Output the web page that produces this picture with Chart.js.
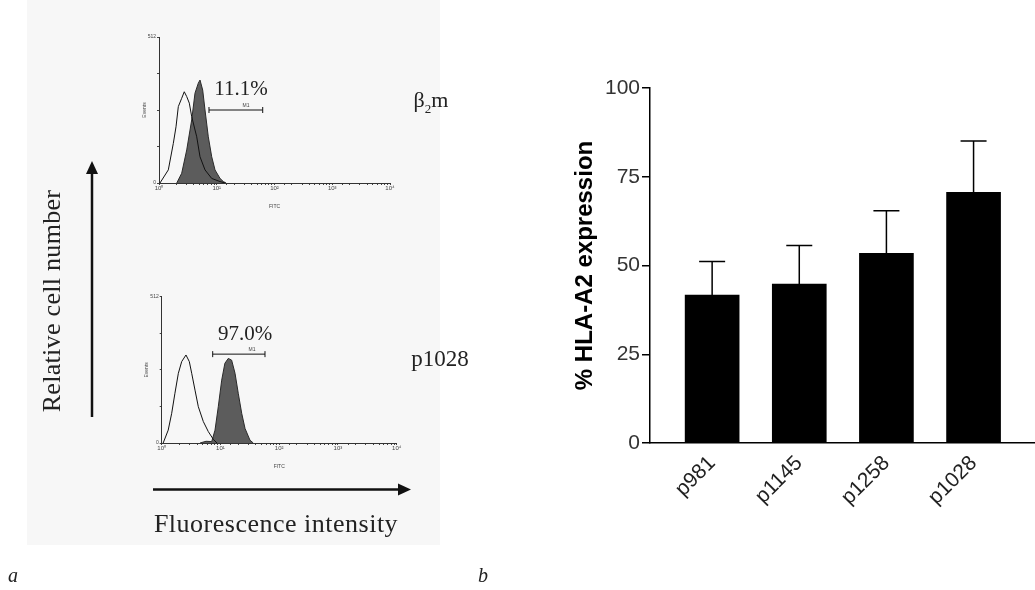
<!DOCTYPE html>
<html lang="en">
<head>
<meta charset="UTF-8">
<title>HLA-A2 expression</title>
<script src="https://cdn.jsdelivr.net/npm/chart.js"></script>
<style>
    body { margin: 0; width: 1035px; height: 590px; background: #fff; position: relative; overflow: hidden; }
    .panel-a { position: absolute; left: 27px; top: 0; width: 413px; height: 545px; background: #f7f7f7; }
    canvas { position: absolute; }
    .lbl { position: absolute; font-family: "Liberation Serif", serif; color: #222; white-space: nowrap; line-height: 1; transform: translate(-50%, -50%); }
    .tiny { position: absolute; font-family: "Liberation Sans", sans-serif; font-size: 5px; color: #444; line-height: 1; transform: translate(-50%, -50%); }
    svg { position: absolute; left: 0; top: 0; }
</style>
</head>
<body>
<div class="panel-a"></div>

<canvas id="histTop" width="300" height="190" style="left:110px;top:20px"></canvas>
<canvas id="histBottom" width="305" height="190" style="left:112px;top:280px"></canvas>
<canvas id="bars" width="495" height="500" style="left:540px;top:50px"></canvas>

<svg width="1035" height="590">
    <line x1="92" y1="417" x2="92" y2="172" stroke="#111" stroke-width="2.5"/>
    <polygon points="92,161 86,174 98,174" fill="#111"/>
    <line x1="153" y1="489.5" x2="400" y2="489.5" stroke="#111" stroke-width="2.5"/>
    <polygon points="411,489.5 398,483.5 398,495.5" fill="#111"/>
</svg>

<div class="lbl" style="left:241px;top:88px;font-size:21px">11.1%</div>
<div class="tiny" style="left:246px;top:105px">M1</div>
<div class="lbl" style="left:431px;top:102px;font-size:22px">β<sub style="font-size:13px">2</sub>m</div>

<div class="lbl" style="left:245px;top:333px;font-size:21px">97.0%</div>
<div class="tiny" style="left:252px;top:349px">M1</div>
<div class="lbl" style="left:440px;top:358px;font-size:23px">p1028</div>

<div class="lbl" style="left:52px;top:301px;font-size:26px;letter-spacing:0.3px;transform:translate(-50%,-50%) rotate(-90deg)">Relative cell number</div>
<div class="lbl" style="left:276px;top:524px;font-size:26px;letter-spacing:0.5px">Fluorescence intensity</div>

<div class="lbl" style="left:13px;top:575px;font-size:20px;font-style:italic">a</div>
<div class="lbl" style="left:483px;top:575px;font-size:20px;font-style:italic">b</div>

<script>
    // panel a: flow cytometry histograms (fluorescence, events)
    const topControlX = [1.04, 1.45, 1.77, 1.97, 2.16, 2.47, 2.74, 3.02, 3.35, 3.68, 4.50, 5.13, 6.26, 8.18, 11.4, 14.0];
    const topControlY = [0, 46, 139, 197, 268, 297, 320, 303, 280, 233, 162, 92, 46, 16, 5, 0];
    const topStainX = [2.03, 2.47, 3.02, 3.68, 4.20, 4.79, 5.13, 5.71, 6.26, 7.14, 8.18, 9.33, 11.4, 13.0, 14.5];
    const topStainY = [0, 34, 116, 221, 315, 350, 361, 326, 256, 162, 92, 46, 16, 5, 0];
    const topGateX = [7.34, 62.5];
    const topGateY = 256;

    const bottomControlX = [1.06, 1.29, 1.48, 1.68, 1.92, 2.19, 2.59, 2.95, 3.24, 3.69, 4.20, 5.11, 6.21, 7.55, 8.73];
    const bottomControlY = [0, 45, 104, 174, 244, 285, 308, 285, 244, 185, 127, 75, 40, 13, 0];
    const bottomStainX = [4.49, 5.68, 7.10, 8.08, 9.19, 10.5, 11.9, 13.6, 15.5, 17.7, 20.1, 23.0, 26.2, 31.8, 36.2];
    const bottomStainY = [0, 6, 5, 45, 127, 220, 279, 296, 290, 244, 174, 104, 51, 10, 0];
    const bottomGateX = [7.38, 57.3];
    const bottomGateY = 311;

    // panel b: bar chart
    const peptides = ['p981', 'p1145', 'p1258', 'p1028'];
    const barPos = [1, 2, 3, 4];
    const expression = [41.7, 44.8, 53.4, 70.6];
    const sem = [9.4, 10.8, 12.0, 14.5];
    const yTicks = [0, 25, 50, 75, 100];

    const sup = ['\u2070', '\u00b9', '\u00b2', '\u00b3', '\u2074'];
    const pts = (xs, ys) => xs.map((x, i) => ({x: x, y: Array.isArray(ys) ? ys[i] : ys}));

    function histChart(id, area, w, h, ctrlX, ctrlY, stX, stY, gateX, gateY) {
        new Chart(document.getElementById(id), {
            type: 'line',
            data: {
                datasets: [{
                    data: pts(ctrlX, ctrlY),
                    borderColor: '#111',
                    borderWidth: 1,
                    pointRadius: 0,
                    fill: false,
                    order: 0
                }, {
                    data: pts(gateX, gateY),
                    borderColor: '#111',
                    borderWidth: 1,
                    pointStyle: 'line',
                    rotation: 90,
                    pointRadius: 3,
                    pointBorderWidth: 1,
                    fill: false,
                    order: 0
                }, {
                    data: pts(stX, stY),
                    borderColor: '#2a2a2a',
                    backgroundColor: '#5c5c5c',
                    borderWidth: 1,
                    pointRadius: 0,
                    fill: 'origin',
                    order: 1
                }]
            },
            options: {
                responsive: false,
                animation: false,
                layout: {padding: {top: area.top, right: w - area.right, left: 0, bottom: 0}},
                plugins: {legend: {display: false}, tooltip: {enabled: false}},
                scales: {
                    x: {
                        type: 'logarithmic',
                        min: 1,
                        max: 10000,
                        grid: {drawOnChartArea: false, tickLength: 2, color: '#444'},
                        border: {color: '#333', width: 1},
                        ticks: {
                            autoSkip: false, maxRotation: 0, minRotation: 0, padding: 0,
                            color: '#444', font: {size: 6},
                            callback: v => {
                                const e = Math.round(Math.log10(v));
                                return Math.abs(Math.log10(v) - e) < 1e-6 ? '10' + sup[e] : '';
                            }
                        },
                        title: {display: true, text: 'FITC', color: '#444', font: {size: 5}, padding: 0},
                        afterFit: s => { s.height = h - area.bottom; }
                    },
                    y: {
                        min: 0,
                        max: 512,
                        grid: {drawOnChartArea: false, tickLength: 2, color: '#444'},
                        border: {color: '#333', width: 1},
                        ticks: {
                            stepSize: 128, padding: 1, color: '#444', font: {size: 5},
                            callback: v => (v === 0 || v === 512) ? v : ''
                        },
                        title: {display: true, text: 'Events', color: '#444', font: {size: 5}, padding: {top: 32}},
                        afterFit: s => { s.width = area.left; }
                    }
                }
            }
        });
    }

    histChart('histTop', {left: 49, top: 17, right: 280, bottom: 163}, 300, 190,
        topControlX, topControlY, topStainX, topStainY, topGateX, topGateY);
    histChart('histBottom', {left: 49.7, top: 16.7, right: 284.7, bottom: 163}, 305, 190,
        bottomControlX, bottomControlY, bottomStainX, bottomStainY, bottomGateX, bottomGateY);

    const errorBars = {
        id: 'errorBars',
        afterDatasetsDraw(chart) {
            const meta = chart.getDatasetMeta(0);
            const ys = chart.scales.y;
            const ctx = chart.ctx;
            ctx.save();
            ctx.strokeStyle = '#000';
            ctx.lineWidth = 1.5;
            meta.data.forEach((bar, i) => {
                const top = ys.getPixelForValue(expression[i] + sem[i]);
                ctx.beginPath();
                ctx.moveTo(bar.x, bar.y);
                ctx.lineTo(bar.x, top);
                ctx.moveTo(bar.x - 13, top);
                ctx.lineTo(bar.x + 13, top);
                ctx.stroke();
            });
            ctx.restore();
        }
    };

    new Chart(document.getElementById('bars'), {
        type: 'bar',
        data: {
            datasets: [{
                data: barPos.map((x, i) => ({x: x, y: expression[i]})),
                backgroundColor: '#000',
                borderWidth: 0,
                barThickness: 54
            }]
        },
        options: {
            responsive: false,
            animation: false,
            layout: {padding: {top: 38, right: 0, left: 0, bottom: 0}},
            plugins: {legend: {display: false}, tooltip: {enabled: false}},
            scales: {
                x: {
                    type: 'linear',
                    offset: false,
                    min: 0.287,
                    max: 4.705,
                    grid: {display: false, drawTicks: false},
                    border: {color: '#000', width: 1.5},
                    afterBuildTicks: s => { s.ticks = barPos.map(v => ({value: v})); },
                    ticks: {
                        autoSkip: false, minRotation: 45, maxRotation: 45, padding: 8,
                        color: '#222', font: {family: 'Liberation Sans', size: 21},
                        callback: (v, i) => peptides[i]
                    },
                    afterFit: s => { s.height = 107; }
                },
                y: {
                    min: 0,
                    max: 100,
                    grid: {drawOnChartArea: false, tickLength: 8, color: '#000', lineWidth: 1.5},
                    border: {color: '#000', width: 1.5},
                    afterBuildTicks: s => { s.ticks = yTicks.map(v => ({value: v})); },
                    ticks: {padding: 2, color: '#333', font: {family: 'Liberation Sans', size: 21}},
                    title: {
                        display: true, text: '% HLA-A2 expression', color: '#000',
                        font: {family: 'Liberation Sans', size: 24, weight: 'bold'},
                        padding: {top: 31, bottom: 0}
                    },
                    afterFit: s => { s.width = 110; }
                }
            }
        },
        plugins: [errorBars]
    });
</script>
</body>
</html>
